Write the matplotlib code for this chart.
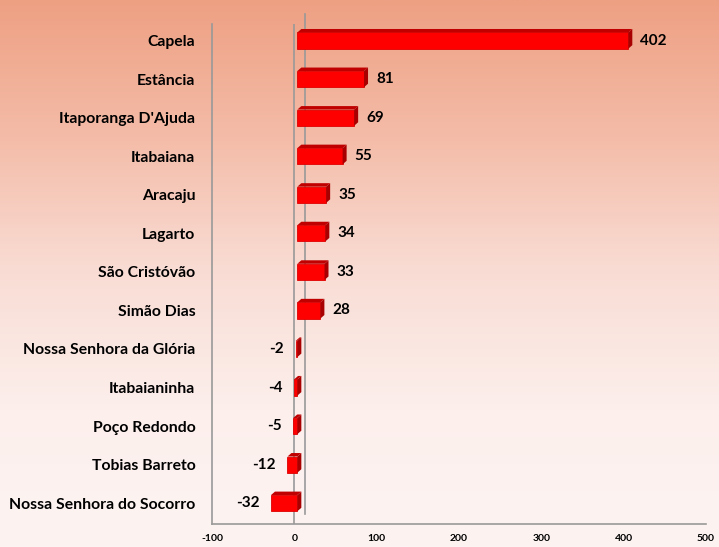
import numpy as np
import matplotlib.pyplot as plt
from matplotlib.patches import Polygon
from matplotlib.colors import LinearSegmentedColormap
from matplotlib.transforms import offset_copy

plt.rcParams['font.family'] = ['Lato', 'DejaVu Sans']

cities = ['Capela', 'Estância', "Itaporanga D'Ajuda", 'Itabaiana', 'Aracaju',
          'Lagarto', 'São Cristóvão', 'Simão Dias', 'Nossa Senhora da Glória',
          'Itabaianinha', 'Poço Redondo', 'Tobias Barreto',
          'Nossa Senhora do Socorro']
values = [402, 81, 69, 55, 35, 34, 33, 28, -2, -4, -5, -12, -32]
xticks = [-100, 0, 100, 200, 300, 400, 500]

fig = plt.figure(figsize=(7.19, 5.47), dpi=100)

# background gradient
bg = fig.add_axes([0, 0, 1, 1], zorder=-10)
cmap = LinearSegmentedColormap.from_list(
    'bg', ['#EEA083', '#F4BCA8', '#F9DDD5', '#FCEFEC', '#FDF4F2'])
grad = np.linspace(0, 1, 256).reshape(-1, 1)
bg.imshow(grad, aspect='auto', cmap=cmap, extent=[0, 1, 0, 1])
bg.axis('off')

ax = fig.add_axes([212 / 719, 23 / 547, 494 / 719, 500 / 547])
ax.patch.set_alpha(0)
ax.set_xlim(-100, 500)
y = np.arange(len(cities))
ax.set_ylim(12.54, -0.43)

for s in ['top', 'right']:
    ax.spines[s].set_visible(False)
for s in ['left', 'bottom']:
    ax.spines[s].set_color('#999999')
    ax.spines[s].set_linewidth(1.2)

# front and back zero lines
ax.axvline(0, color='#999999', lw=1.2, zorder=1)
back = offset_copy(ax.transData, fig=fig, x=11, y=10, units='dots')
ax.plot([0, 0], [12.54, -0.43], color='#999999', lw=1.2, transform=back,
        clip_on=False, zorder=1)

# 3D-ish bars
bar_tr = offset_copy(ax.transData, fig=fig, x=3, y=0, units='dots')
h = 0.42
dx = 4 / 0.823
dy = 3.5 / 38.57
for yi, v in zip(y, values):
    x0, x1 = min(0, v), max(0, v)
    yt, yb = yi - h / 2, yi + h / 2
    ax.add_patch(Polygon([(x0, yb), (x1, yb), (x1, yt), (x0, yt)],
                         closed=True, fc='#FF0000', ec='#E00000', lw=0.6,
                         transform=bar_tr, zorder=3))
    ax.add_patch(Polygon([(x0, yt), (x1, yt), (x1 + dx, yt - dy), (x0 + dx, yt - dy)],
                         closed=True, fc='#C00000', ec='none',
                         transform=bar_tr, zorder=3))
    ax.add_patch(Polygon([(x1, yt), (x1, yb), (x1 + dx, yb - dy), (x1 + dx, yt - dy)],
                         closed=True, fc='#A80000', ec='none',
                         transform=bar_tr, zorder=3))
    if v >= 0:
        ax.annotate(str(v), (x1 + dx, yi), xytext=(8, 0), textcoords='offset points',
                    ha='left', va='center', fontsize=11, fontweight='bold')
    else:
        ax.annotate(str(v), (x0, yi), xytext=(-6, 0), textcoords='offset points',
                    ha='right', va='center', fontsize=11, fontweight='bold')

ax.set_yticks(y)
ax.set_yticklabels(cities, fontsize=11.3, fontweight='bold')
ax.set_xticks(xticks)
ax.set_xticklabels([str(t) for t in xticks], fontsize=7.5, fontweight='bold')
ax.tick_params(axis='both', length=0)
ax.tick_params(axis='y', pad=12)
ax.tick_params(axis='x', pad=7)

fig.savefig('out.png', dpi=100)
